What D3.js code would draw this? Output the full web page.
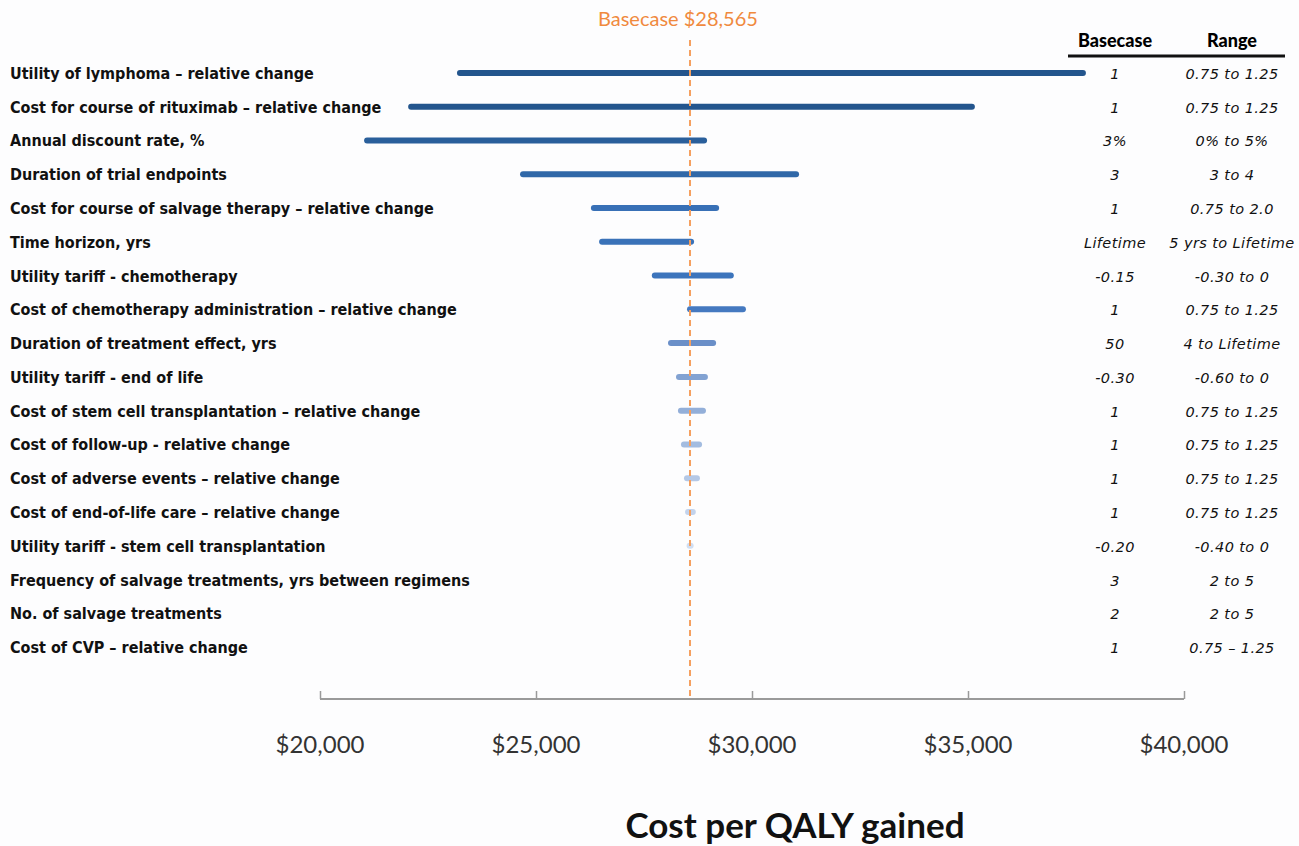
<!DOCTYPE html>
<html lang="en">

<head>
  <meta charset="UTF-8">
  <title>Tornado diagram - cost per QALY gained</title>
  <style>
    body {
      margin: 0;
      background: #fdfdfe;
    }

    svg {
      display: block;
    }

    .label {
      font-family: "DejaVu Sans Condensed", "DejaVu Sans", sans-serif;
      font-stretch: condensed;
      font-weight: 700;
      font-size: 16px;
      fill: #111;
    }

    .cell {
      font-family: "DejaVu Sans", sans-serif;
      font-style: italic;
      font-size: 14.5px;
      letter-spacing: 0.4px;
      fill: #111;
    }
  </style>
</head>

<body>
  <div id="chart"></div>

  <script src="https://d3js.org/d3.v7.min.js"></script>
  <script>
    const width = 1299
    const height = 846

    // parameters, top to bottom
    const params = [
      'Utility of lymphoma – relative change',
      'Cost for course of rituximab – relative change',
      'Annual discount rate, %',
      'Duration of trial endpoints',
      'Cost for course of salvage therapy – relative change',
      'Time horizon, yrs',
      'Utility tariff - chemotherapy',
      'Cost of chemotherapy administration – relative change',
      'Duration of treatment effect, yrs',
      'Utility tariff - end of life',
      'Cost of stem cell transplantation – relative change',
      'Cost of follow-up  - relative change',
      'Cost of adverse events – relative change',
      'Cost of end-of-life care – relative change',
      'Utility tariff - stem cell transplantation',
      'Frequency of salvage treatments, yrs between regimens',
      'No. of salvage treatments',
      'Cost of CVP – relative change'
    ]

    // cost per QALY at either end of the range
    const lowValues = [23240, 22110, 21090, 24700, 26340, 26530, 27750, 28565, 28125, 28310,
      28355, 28425, 28495, 28520, 28555, 28565, 28565, 28565]
    const highValues = [37660, 35090, 28890, 31020, 29170, 28590, 29510, 29790, 29100, 28910,
      28865, 28775, 28725, 28630, 28580, 28565, 28565, 28565]

    const baseValues = ['1', '1', '3%', '3', '1', 'Lifetime', '-0.15', '1', '50', '-0.30',
      '1', '1', '1', '1', '-0.20', '3', '2', '1']
    const rangeValues = ['0.75 to 1.25', '0.75 to 1.25', '0% to 5%', '3 to 4', '0.75 to 2.0',
      '5 yrs to Lifetime', '-0.30 to 0', '0.75 to 1.25', '4 to Lifetime', '-0.60 to 0',
      '0.75 to 1.25', '0.75 to 1.25', '0.75 to 1.25', '0.75 to 1.25', '-0.40 to 0',
      '2 to 5', '2 to 5', '0.75 – 1.25']

    const barColors = ['#23558d', '#23558d', '#2a5f9b', '#3068a8', '#3870b6', '#3a72b8', '#3c74bc',
      '#4579c0', '#6a8fc8', '#82a2d2', '#93afd9', '#a3bce0', '#b4c8e6', '#c3d3ec', '#d0def2',
      '#d0def2', '#d0def2', '#d0def2']

    const baseCase = 28565
    const xTicks = [20000, 25000, 30000, 35000, 40000]

    const svg = d3.select('#chart').append('svg')
      .attr('width', width)
      .attr('height', height)

    svg.append('rect')
      .attr('width', width)
      .attr('height', height)
      .attr('fill', '#fdfdfe')

    const x = d3.scaleLinear()
      .domain([20000, 40000])
      .range([320, 1184])

    const y = d3.scaleBand()
      .domain(params)
      .range([56, 664])

    const rows = params.map((p, i) => ({
      name: p,
      low: lowValues[i],
      high: highValues[i],
      base: baseValues[i],
      range: rangeValues[i],
      color: barColors[i]
    }))

    // x axis, ticks pointing up
    const axisY = 699
    const axis = svg.append('g')
      .attr('transform', `translate(0, ${axisY})`)
      .call(d3.axisTop(x).tickValues(xTicks).tickSize(8).tickFormat(''))
    axis.select('.domain').remove()
    axis.selectAll('.tick line').attr('stroke', '#9a9a9a').attr('stroke-width', 1.5)
    svg.append('line')
      .attr('x1', x(20000)).attr('x2', x(40000))
      .attr('y1', axisY).attr('y2', axisY)
      .attr('stroke', '#9a9a9a')
      .attr('stroke-width', 2)

    svg.append('g')
      .selectAll('text')
      .data(xTicks)
      .join('text')
      .attr('x', d => x(d))
      .attr('y', 753)
      .attr('text-anchor', 'middle')
      .attr('font-family', 'Lato, "Open Sans", sans-serif')
      .attr('font-size', 24)
      .attr('fill', '#333')
      .text(d => '$' + d3.format(',')(d))

    svg.append('text')
      .attr('x', 795)
      .attr('y', 838)
      .attr('text-anchor', 'middle')
      .attr('font-family', 'Lato, "Open Sans", sans-serif')
      .attr('font-weight', 700)
      .attr('font-size', 35)
      .attr('fill', '#111')
      .text('Cost per QALY gained')

    // parameter labels
    svg.append('g')
      .selectAll('text')
      .data(rows)
      .join('text')
      .attr('class', 'label')
      .attr('x', 10)
      .attr('y', d => y(d.name) + y.bandwidth() / 2 + 6)
      .text(d => d.name)

    // bars
    svg.append('g')
      .selectAll('line')
      .data(rows.filter(d => d.high > d.low))
      .join('line')
      .attr('x1', d => x(d.low))
      .attr('x2', d => x(d.high))
      .attr('y1', d => y(d.name) + y.bandwidth() / 2)
      .attr('y2', d => y(d.name) + y.bandwidth() / 2)
      .attr('stroke', d => d.color)
      .attr('stroke-width', 6)
      .attr('stroke-linecap', 'round')

    // base case line
    svg.append('line')
      .attr('x1', x(baseCase)).attr('x2', x(baseCase))
      .attr('y1', 40).attr('y2', axisY)
      .attr('stroke', '#f5a060')
      .attr('stroke-width', 2)
      .attr('stroke-dasharray', '6 4')

    svg.append('text')
      .attr('x', x(baseCase) - 92)
      .attr('y', 26)
      .attr('font-family', 'Lato, "Open Sans", sans-serif')
      .attr('font-size', 20)
      .attr('fill', '#f08a3e')
      .text('Basecase $' + d3.format(',')(baseCase))

    // right hand table
    const colBase = 1115
    const colRange = 1232
    svg.append('text')
      .attr('x', colBase).attr('y', 47)
      .attr('text-anchor', 'middle')
      .attr('font-family', 'Lato, "Open Sans", sans-serif')
      .attr('font-weight', 900)
      .attr('font-size', 18)
      .text('Basecase')
    svg.append('text')
      .attr('x', colRange).attr('y', 47)
      .attr('text-anchor', 'middle')
      .attr('font-family', 'Lato, "Open Sans", sans-serif')
      .attr('font-weight', 900)
      .attr('font-size', 18)
      .text('Range')
    svg.append('line')
      .attr('x1', 1068).attr('x2', 1285)
      .attr('y1', 56).attr('y2', 56)
      .attr('stroke', '#111')
      .attr('stroke-width', 3)

    const table = svg.append('g')
    table.selectAll('text.base')
      .data(rows)
      .join('text')
      .attr('class', 'cell base')
      .attr('x', colBase)
      .attr('y', d => y(d.name) + y.bandwidth() / 2 + 6)
      .attr('text-anchor', 'middle')
      .text(d => d.base)
    table.selectAll('text.range')
      .data(rows)
      .join('text')
      .attr('class', 'cell range')
      .attr('x', colRange)
      .attr('y', d => y(d.name) + y.bandwidth() / 2 + 6)
      .attr('text-anchor', 'middle')
      .text(d => d.range)
  </script>
</body>

</html>
